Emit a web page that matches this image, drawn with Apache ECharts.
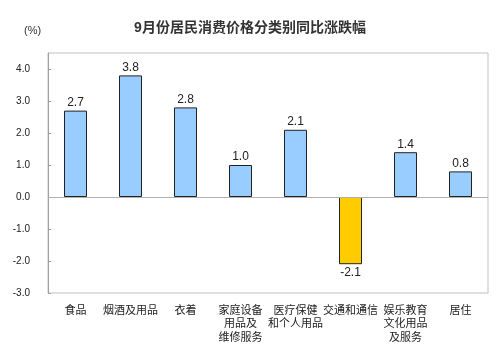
<!DOCTYPE html>
<html>
<head>
<meta charset="utf-8">
<script src="https://cdn.jsdelivr.net/npm/echarts@6/dist/echarts.min.js"></script>
<style>html,body{margin:0;padding:0;background:#fff}#c{width:500px;height:358px}</style>
</head>
<body>
<div id="c"></div>
<script>
var titleText = '9月份居民消费价格分类别同比涨跌幅';
var unitText = '(%)';
var categories = ['食品', '烟酒及用品', '衣着', '家庭设备\n用品及\n维修服务', '医疗保健\n和个人用品', '交通和通信', '娱乐教育\n文化用品\n及服务', '居住'];
var values = [2.7, 3.8, 2.8, 1.0, 2.1, -2.1, 1.4, 0.8];
var yTicks = [-3, -2, -1, 0, 1, 2, 3, 4];

var FONT = 'Arial, "Liberation Sans", "Noto Sans CJK SC", sans-serif';
var chart = echarts.init(document.getElementById('c'), null, {renderer: 'canvas'});
chart.setOption({
  animation: false,
  backgroundColor: '#fff',
  title: [{
    text: titleText, left: 'center', top: 16,
    textStyle: {fontSize: 14, fontWeight: 'bold', color: '#333', fontFamily: FONT}
  }, {
    text: unitText, left: 19, top: 20,
    textStyle: {fontSize: 11, fontWeight: 'normal', color: '#333', fontFamily: FONT}
  }],
  grid: {left: 48, right: 12, top: 53, bottom: 65, show: true, borderColor: '#c0c0c0', borderWidth: 1},
  xAxis: {
    type: 'category', data: categories,
    axisLine: {show: false, onZero: false},
    axisTick: {show: false},
    axisLabel: {interval: 0, margin: 11, fontSize: 11, color: '#222', lineHeight: 13.5, fontFamily: FONT}
  },
  yAxis: {
    type: 'value', min: -3, max: 4.5, interval: 1,
    splitLine: {show: false},
    axisLine: {show: true, lineStyle: {color: '#a0a0a0'}},
    axisTick: {show: true, inside: true, length: 3, lineStyle: {color: '#a0a0a0'}, customValues: yTicks},
    axisLabel: {customValues: yTicks, margin: 18, fontSize: 10, color: '#222', fontFamily: FONT,
      formatter: function (v) { return v.toFixed(1); }}
  },
  series: [{
    type: 'bar', barWidth: 23,
    data: values.map(function (v) {
      return {value: v, itemStyle: {color: v < 0 ? '#FFCC00' : '#99CCFF', borderColor: '#222', borderWidth: 1},
        label: {position: v < 0 ? 'bottom' : 'top'}};
    }),
    label: {show: true, distance: 2, fontSize: 12, color: '#222', fontFamily: FONT,
      formatter: function (p) { return p.value.toFixed(1); }},
    markLine: {
      silent: true, symbol: 'none', label: {show: false},
      lineStyle: {color: '#b0b0b0', width: 1, type: 'solid'},
      data: [{yAxis: 0}]
    }
  }]
});
</script>
</body>
</html>
